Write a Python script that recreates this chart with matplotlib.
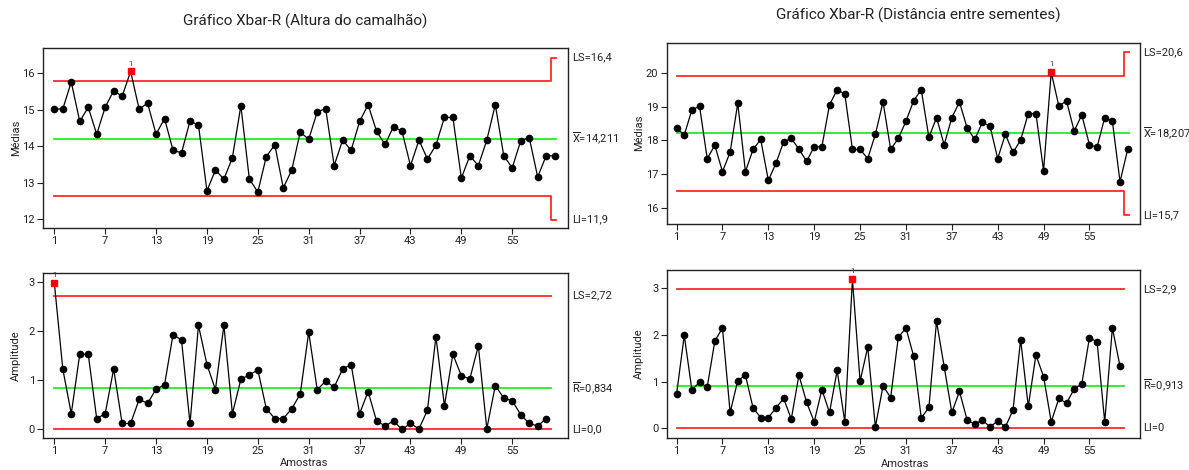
import matplotlib
matplotlib.use("Agg")
import matplotlib.pyplot as plt
import numpy as np

plt.rcParams['font.family'] = ['Roboto', 'DejaVu Sans']
plt.rcParams['mathtext.fontset'] = 'custom'
plt.rcParams['mathtext.rm'] = 'Roboto'

# --- Altura do camalhao (left) ---
xbar_alt = [15.02, 15.02, 15.76, 14.68, 15.07, 14.33, 15.07, 15.52, 15.37, 16.05,
            15.02, 15.18, 14.33, 14.76, 13.89, 13.82, 14.69, 14.58, 12.78, 13.35,
            13.10, 13.69, 15.11, 13.10, 12.75, 13.72, 14.04, 12.86, 13.35, 14.39,
            14.19, 14.94, 15.03, 13.47, 14.17, 13.89, 14.68, 15.14, 14.41, 14.05,
            14.54, 14.41, 13.47, 14.17, 13.65, 14.03, 14.79, 14.79, 13.13, 13.74,
            13.47, 14.17, 15.14, 13.74, 13.41, 14.15, 14.24, 13.16, 13.74, 13.74]
r_alt = [2.99, 1.23, 0.32, 1.53, 1.53, 0.22, 0.32, 1.23, 0.12, 0.12,
         0.61, 0.53, 0.82, 0.91, 1.93, 1.82, 0.12, 2.12, 1.32, 0.81,
         2.12, 0.32, 1.02, 1.11, 1.21, 0.42, 0.22, 0.22, 0.42, 0.72,
         1.98, 0.81, 0.98, 0.86, 1.23, 1.32, 0.32, 0.77, 0.17, 0.07,
         0.17, 0.00, 0.12, 0.01, 0.39, 1.89, 0.48, 1.53, 1.09, 1.03,
         1.70, 0.01, 0.89, 0.64, 0.58, 0.30, 0.12, 0.07, 0.22]
alt_center, alt_ucl, alt_lcl = 14.211, 15.779, 12.643
alt_ucl_last, alt_lcl_last = 16.43, 11.99
alt_rbar, alt_rucl = 0.834, 2.725
alt_xbar_out = [10]
alt_r_out = [1]

# --- Distancia entre sementes (right) ---
xbar_dist = [18.37, 18.16, 18.91, 19.02, 17.46, 17.85, 17.07, 17.65, 19.11, 17.07,
             17.73, 18.03, 16.81, 17.32, 17.96, 18.06, 17.74, 17.38, 17.81, 17.81,
             19.06, 19.51, 19.38, 17.73, 17.73, 17.46, 18.18, 19.15, 17.73, 18.06,
             18.57, 19.18, 19.51, 18.09, 18.68, 17.87, 18.68, 19.14, 18.37, 18.03,
             18.54, 18.42, 17.46, 18.18, 17.64, 18.01, 18.80, 18.80, 17.10, 20.03,
             19.02, 19.18, 18.28, 18.76, 17.87, 17.80, 18.68, 18.57, 16.77, 17.73]
r_dist = [0.74, 1.99, 0.82, 0.99, 0.88, 1.87, 2.15, 0.34, 1.02, 1.14,
          0.44, 0.23, 0.23, 0.44, 0.64, 0.20, 1.14, 0.56, 0.14, 0.83,
          0.34, 1.24, 0.14, 3.19, 1.01, 1.74, 0.03, 0.91, 0.66, 1.95,
          2.15, 1.55, 0.22, 0.45, 2.29, 1.32, 0.34, 0.79, 0.18, 0.09,
          0.18, 0.03, 0.16, 0.03, 0.39, 1.90, 0.47, 1.57, 1.11, 0.14,
          0.64, 0.54, 0.84, 0.95, 1.94, 1.85, 0.14, 2.15, 1.33]
dist_center, dist_ucl, dist_lcl = 18.207, 19.924, 16.490
dist_ucl_last, dist_lcl_last = 20.64, 15.78
dist_rbar, dist_rucl = 0.913, 2.983
dist_xbar_out = [50]
dist_r_out = [24]

xticks = list(range(1, 61, 6))
RED = '#ff2a2a'
GREEN = '#22ee22'
TXT = '#222222'

fig = plt.figure(figsize=(11.89, 4.70), dpi=100)


def style(ax, xlim, ylim, yticks):
    ax.set_xlim(*xlim)
    ax.set_ylim(*ylim)
    ax.set_xticks(xticks)
    ax.set_yticks(yticks)
    ax.tick_params(direction='out', length=4, width=0.8, labelsize=8,
                   colors=TXT, top=False, right=False, pad=2)
    for s in ax.spines.values():
        s.set_linewidth(1.0)
        s.set_color(TXT)


def plot_series(ax, vals, out):
    x = np.arange(1, len(vals) + 1)
    v = np.array(vals)
    ax.plot(x, v, '-', color='black', lw=0.9, zorder=3)
    mask = np.isin(x, out)
    ax.plot(x[~mask], v[~mask], 'o', color='black', ms=4.5, zorder=4)
    ax.plot(x[mask], v[mask], 's', color='red', ms=5, zorder=5)
    for xi, vi in zip(x[mask], v[mask]):
        ax.annotate('1', (xi, vi), xytext=(0, 3.5), textcoords='offset points',
                    ha='center', va='bottom', fontsize=5.5, color='#333333')


def side_labels(ax, ys, labels):
    for y, t in zip(ys, labels):
        ax.text(1.007, y, t, transform=ax.get_yaxis_transform(), fontsize=8,
                va='center', ha='left', color=TXT)


def xbar_panel(rect, vals, center, ucl, lcl, ucl_last, lcl_last, out, ylim, yticks, labels):
    ax = fig.add_axes(rect)
    n = len(vals)
    xs = [1, n - 0.45, n - 0.45, n + 0.15]
    ax.plot(xs, [ucl, ucl, ucl_last, ucl_last], color=RED, lw=1.3)
    ax.plot(xs, [lcl, lcl, lcl_last, lcl_last], color=RED, lw=1.3)
    ax.plot([1, n + 0.15], [center, center], color=GREEN, lw=1.3)
    plot_series(ax, vals, out)
    style(ax, (-0.3, 61.6), ylim, yticks)
    side_labels(ax, [ucl_last, center, lcl_last], labels)
    return ax


def r_panel(rect, vals, rbar, rucl, out, ylim, yticks, labels):
    ax = fig.add_axes(rect)
    n = len(vals)
    ax.plot([1, n + 0.55], [rucl, rucl], color=RED, lw=1.3)
    ax.plot([1, n + 0.55], [0, 0], color=RED, lw=1.3)
    ax.plot([1, n + 0.55], [rbar, rbar], color=GREEN, lw=1.3)
    plot_series(ax, vals, out)
    style(ax, (-0.3, 61.6), ylim, yticks)
    side_labels(ax, [rucl, rbar, 0], labels)
    return ax


xbar_panel([0.0364, 0.5155, 0.4415, 0.383], xbar_alt, alt_center, alt_ucl, alt_lcl,
           alt_ucl_last, alt_lcl_last, alt_xbar_out, (11.77, 16.70), [12, 13, 14, 15, 16],
           ['LS=16,4', r'$\overline{\mathrm{X}}$=14,211', 'LI=11,9'])
r_panel([0.0364, 0.0687, 0.4415, 0.351], r_alt, alt_rbar, alt_rucl, alt_r_out,
        (-0.17, 3.19), [0, 1, 2, 3],
        ['LS=2,72', r'$\overline{\mathrm{R}}$=0,834', 'LI=0,0'])
xbar_panel([0.5607, 0.5234, 0.398, 0.3857], xbar_dist, dist_center, dist_ucl, dist_lcl,
           dist_ucl_last, dist_lcl_last, dist_xbar_out, (15.51, 20.91), [16, 17, 18, 19, 20],
           ['LS=20,6', r'$\overline{\mathrm{X}}$=18,207', 'LI=15,7'])
r_panel([0.5607, 0.0687, 0.398, 0.3568], r_dist, dist_rbar, dist_rucl, dist_r_out,
        (-0.2, 3.39), [0, 1, 2, 3],
        ['LS=2,9', r'$\overline{\mathrm{R}}$=0,913', 'LI=0'])

fig.text(305 / 1189, 1 - 21 / 470, 'Gráfico Xbar-R (Altura do camalhão)', ha='center',
         va='center', fontsize=11, color=TXT)
fig.text(918 / 1189, 1 - 15 / 470, 'Gráfico Xbar-R (Distância entre sementes)', ha='center',
         va='center', fontsize=11, color=TXT)
fig.text(16 / 1189, 1 - 138 / 470, 'Médias', rotation=90, ha='center', va='center', fontsize=8, color=TXT)
fig.text(16 / 1189, 1 - 356 / 470, 'Amplitude', rotation=90, ha='center', va='center', fontsize=8, color=TXT)
fig.text(639 / 1189, 1 - 133 / 470, 'Médias', rotation=90, ha='center', va='center', fontsize=8, color=TXT)
fig.text(639 / 1189, 1 - 354 / 470, 'Amplitude', rotation=90, ha='center', va='center', fontsize=8, color=TXT)
fig.text(304 / 1189, 1 - 463 / 470, 'Amostras', ha='center', va='center', fontsize=8, color=TXT)
fig.text(905 / 1189, 1 - 464 / 470, 'Amostras', ha='center', va='center', fontsize=8, color=TXT)

fig.savefig('out.png', dpi=100)
